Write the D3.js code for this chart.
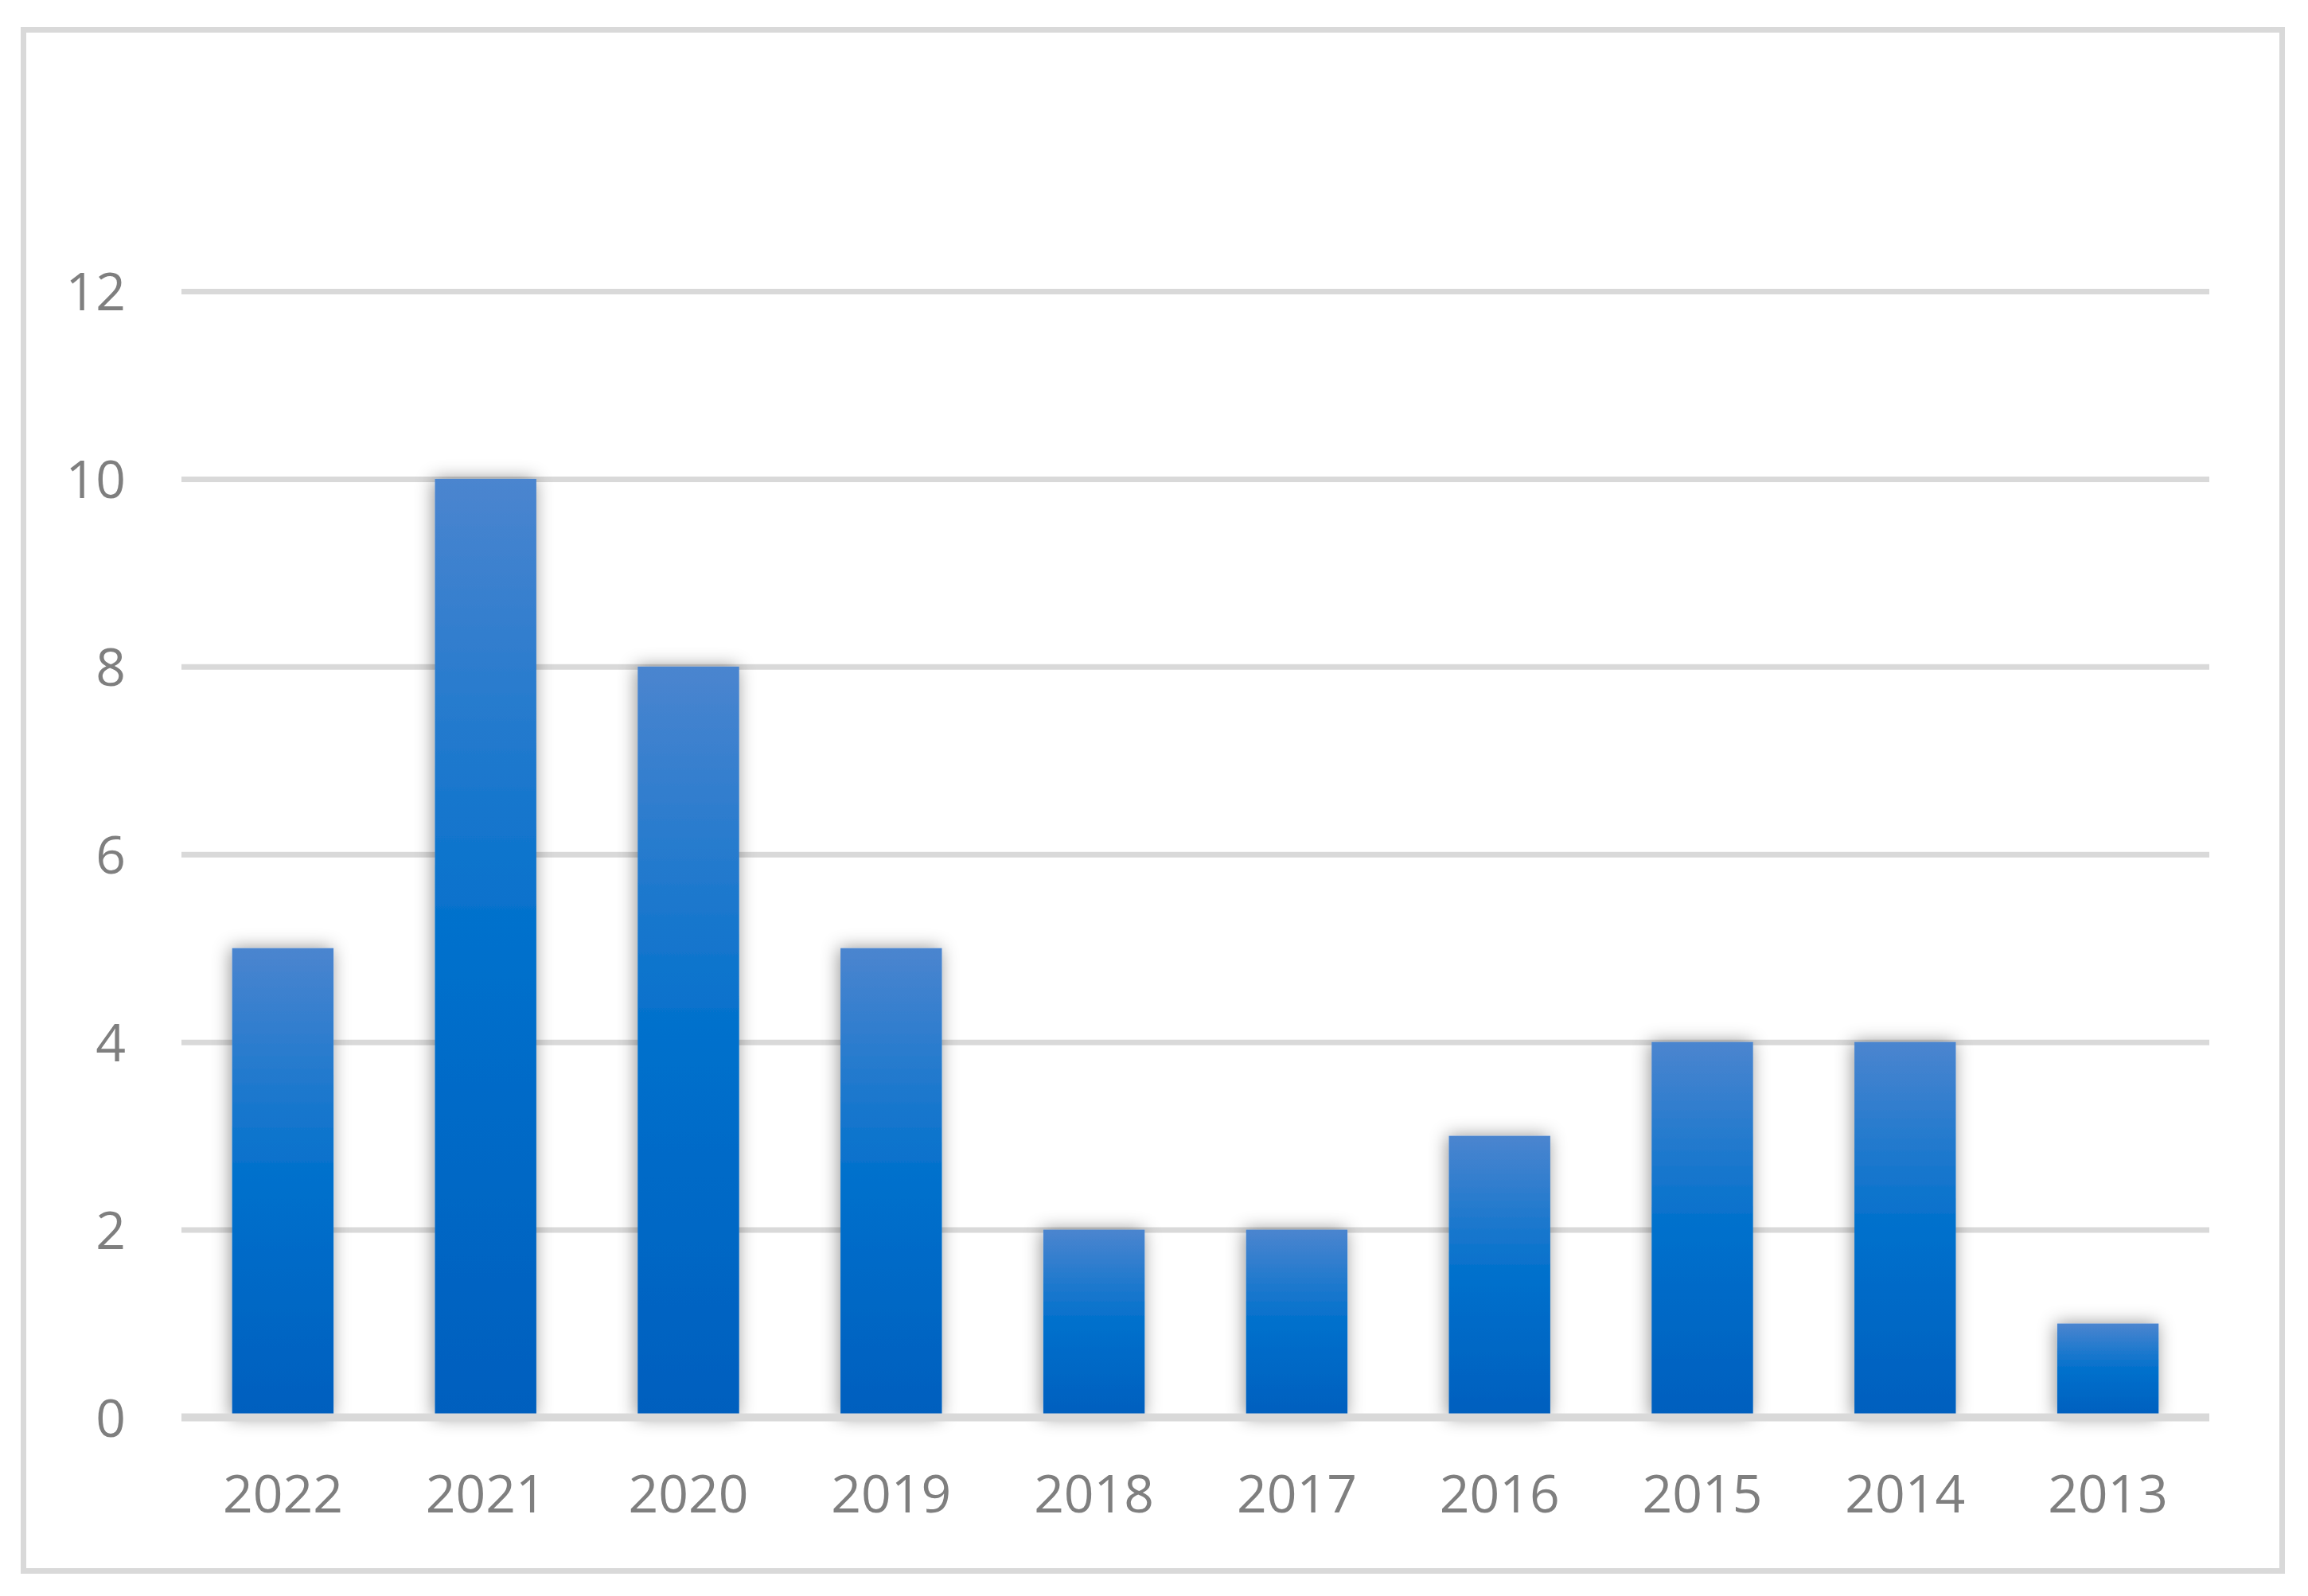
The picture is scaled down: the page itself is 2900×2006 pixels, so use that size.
<!DOCTYPE html>
<html>
<head>
<meta charset="utf-8">
<script src="https://cdn.jsdelivr.net/npm/d3@7"></script>
<style>
  html, body { margin: 0; padding: 0; background: #fff; }
  svg { display: block; }
  text { font-family: "Open Sans", "Noto Sans", sans-serif; fill: #7f7f7f; }
</style>
</head>
<body>
<svg id="chart" width="2900" height="2006"></svg>
<script>
const categories = ["2022", "2021", "2020", "2019", "2018", "2017", "2016", "2015", "2014", "2013"];
const values = [5, 10, 8, 5, 2, 2, 3, 4, 4, 1];
const yTicks = [0, 2, 4, 6, 8, 10, 12];

const W = 2900, H = 2006;
const plot = { left: 228, right: 2776, top: 366, bottom: 1781.5 };

const svg = d3.select("#chart");
const defs = svg.append("defs");

const grad = defs.append("linearGradient")
  .attr("id", "barGrad").attr("x1", 0).attr("y1", 0).attr("x2", 0).attr("y2", 1);
grad.append("stop").attr("offset", "0%").attr("stop-color", "#4b85cf");
grad.append("stop").attr("offset", "50%").attr("stop-color", "#0070cc");
grad.append("stop").attr("offset", "100%").attr("stop-color", "#005fbe");

const shadow = defs.append("filter").attr("id", "shadow")
  .attr("x", "-50%").attr("y", "-50%").attr("width", "200%").attr("height", "200%");
shadow.append("feDropShadow").attr("dx", -2).attr("dy", 0)
  .attr("stdDeviation", 11).attr("flood-color", "#000").attr("flood-opacity", 0.42);

// background + border
svg.append("rect").attr("width", W).attr("height", H).attr("fill", "#fff");
svg.append("rect")
  .attr("x", 29.5).attr("y", 37.5).attr("width", 2838).attr("height", 1937)
  .attr("fill", "#fff").attr("stroke", "#d9d9d9").attr("stroke-width", 7);

const x = d3.scaleBand().domain(categories)
  .range([plot.left, plot.right]).paddingInner(0.5).paddingOuter(0.25);
const y = d3.scaleLinear().domain([0, 12]).range([plot.bottom, plot.top]);

// gridlines
const yAxis = d3.axisLeft(y).tickValues(yTicks)
  .tickSize(-(plot.right - plot.left)).tickFormat(d3.format("d")).tickPadding(70);
const gy = svg.append("g").attr("transform", `translate(${plot.left},0)`).call(yAxis);
gy.select(".domain").remove();
gy.selectAll(".tick line")
  .attr("stroke", "#d9d9d9").attr("stroke-width", d => d === 0 ? 0 : 7);
gy.selectAll(".tick text")
  .attr("font-size", 66).attr("fill", "#7f7f7f").attr("dy", "0.36em")
  .style("font-family", '"Open Sans", "Noto Sans", sans-serif');

// bars
svg.append("g").selectAll("rect")
  .data(values)
  .join("rect")
  .attr("x", (d, i) => x(categories[i]))
  .attr("y", d => y(d))
  .attr("width", x.bandwidth())
  .attr("height", d => y(0) - y(d))
  .attr("fill", "url(#barGrad)")
  .attr("filter", "url(#shadow)");

// x axis line
const xAxis = d3.axisBottom(x).tickSize(0).tickPadding(73);
const gx = svg.append("g").attr("transform", `translate(0,${y(0)})`).call(xAxis);
gx.select(".domain").attr("stroke", "#d9d9d9").attr("stroke-width", 10)
  .attr("d", `M${plot.left},0H${plot.right}`);
gx.selectAll(".tick text")
  .attr("font-size", 66).attr("fill", "#7f7f7f")
  .style("font-family", '"Open Sans", "Noto Sans", sans-serif');
</script>
</body>
</html>
